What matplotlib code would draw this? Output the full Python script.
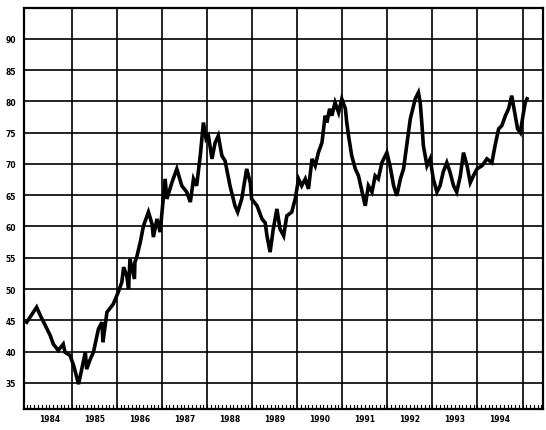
import matplotlib
matplotlib.use("Agg")
import matplotlib.pyplot as plt
import numpy as np
from matplotlib.ticker import FixedLocator, NullFormatter

# data (decimal year, value)
years = [1984.00, 1984.22, 1984.30, 1984.41, 1984.52, 1984.59, 1984.70, 1984.81,
         1984.85, 1984.96, 1985.04, 1985.15, 1985.22, 1985.30, 1985.33, 1985.41,
         1985.48, 1985.59, 1985.67, 1985.69, 1985.78, 1985.92, 1986.03, 1986.11,
         1986.15, 1986.22, 1986.26, 1986.29, 1986.39, 1986.40, 1986.44, 1986.52,
         1986.59, 1986.70, 1986.78, 1986.81, 1986.89, 1986.96, 1987.03, 1987.07,
         1987.11, 1987.22, 1987.33, 1987.44, 1987.55, 1987.63, 1987.70, 1987.77,
         1987.85, 1987.92, 1987.98, 1988.03, 1988.11, 1988.18, 1988.25, 1988.33,
         1988.40, 1988.51, 1988.62, 1988.68, 1988.77, 1988.88, 1988.96, 1988.99,
         1989.11, 1989.22, 1989.29, 1989.33, 1989.40, 1989.47, 1989.55, 1989.62,
         1989.70, 1989.77, 1989.88, 1989.96, 1990.03, 1990.10, 1990.18, 1990.25,
         1990.33, 1990.40, 1990.47, 1990.55, 1990.62, 1990.66, 1990.72, 1990.77,
         1990.84, 1990.92, 1990.99, 1991.07, 1991.10, 1991.14, 1991.21, 1991.29,
         1991.36, 1991.44, 1991.51, 1991.58, 1991.66, 1991.73, 1991.80, 1991.88,
         1991.99, 1992.06, 1992.14, 1992.21, 1992.29, 1992.36, 1992.43, 1992.51,
         1992.62, 1992.69, 1992.73, 1992.77, 1992.80, 1992.88, 1992.95, 1993.02,
         1993.10, 1993.17, 1993.24, 1993.32, 1993.39, 1993.47, 1993.54, 1993.62,
         1993.69, 1993.77, 1993.84, 1993.91, 1993.99, 1994.10, 1994.21, 1994.32,
         1994.39, 1994.47, 1994.54, 1994.62, 1994.69, 1994.76, 1994.84, 1994.89,
         1994.95, 1995.01, 1995.06, 1995.10]
values = [44.7, 47.1, 45.8, 44.2, 42.6, 41.2, 40.2, 41.2,
          39.9, 39.4, 37.8, 34.8, 37.2, 39.9, 37.2, 38.8,
          39.9, 43.6, 44.7, 41.5, 46.3, 47.6, 49.5, 51.1,
          53.5, 52.1, 50.0, 54.8, 51.6, 54.3, 55.1, 57.5,
          60.1, 62.3, 60.4, 58.3, 61.2, 59.1, 64.4, 67.6,
          64.4, 67.0, 69.2, 66.5, 65.5, 63.9, 67.6, 66.5,
          71.3, 76.6, 74.0, 74.5, 70.8, 73.4, 74.5, 71.3,
          70.5, 66.5, 63.3, 62.3, 64.4, 69.2, 67.0, 64.4,
          63.3, 61.2, 60.6, 58.5, 55.9, 59.6, 62.8, 59.6,
          58.5, 61.7, 62.3, 64.5, 67.6, 66.5, 67.6, 66.0,
          70.8, 69.7, 71.8, 73.4, 77.7, 76.6, 78.8, 77.7,
          79.8, 78.2, 80.4, 78.8, 76.6, 74.5, 71.3, 69.2,
          68.1, 65.5, 63.3, 66.5, 65.5, 68.1, 67.6, 70.2,
          71.8, 69.7, 66.5, 64.9, 67.6, 69.2, 72.9, 77.2,
          80.4, 81.4, 79.8, 76.1, 72.9, 69.7, 70.8, 67.6,
          65.5, 66.5, 68.7, 70.2, 68.7, 66.5, 65.5, 68.1,
          71.8, 69.7, 67.0, 68.1, 69.2, 69.7, 70.8, 70.2,
          72.9, 75.6, 76.1, 77.7, 78.8, 80.9, 77.7, 75.6,
          75.0, 77.7, 79.8, 80.4]

year_labels = ["1984", "1985", "1986", "1987", "1988", "1989",
               "1990", "1991", "1992", "1993", "1994"]
y_ticks = [35, 40, 45, 50, 55, 60, 65, 70, 75, 80, 85, 90]

fig = plt.figure(figsize=(5.46, 4.31), dpi=100)
ax = fig.add_axes([0.044, 0.049, 0.951, 0.930])

ax.plot(years, values, color="black", lw=2.6, solid_joinstyle="miter")

ax.set_xlim(1983.94, 1995.46)
ax.set_ylim(30.85, 94.9)

# year boundaries as grid lines, labels centred in each year
ax.xaxis.set_major_locator(FixedLocator(np.arange(1985, 1996)))
ax.xaxis.set_major_formatter(NullFormatter())
ax.set_xticks(np.arange(1984.5, 1995, 1), minor=True)
ax.set_xticklabels(year_labels, minor=True, fontsize=5.5, fontweight="bold")
ax.tick_params(axis="x", which="minor", length=0, pad=4)
ax.tick_params(axis="x", which="major", length=0)

ax.set_yticks(y_ticks)
ax.set_yticklabels([str(t) for t in y_ticks], fontsize=5.5, fontweight="bold")
ax.tick_params(axis="y", length=0, pad=6)

ax.grid(True, which="major", color="black", lw=1.2)
ax.set_axisbelow(True)

# monthly ticks along bottom
for m in np.arange(1984, 1995.46, 1 / 12):
    ax.plot([m, m], [30.85, 31.4], color="black", lw=0.8, clip_on=False)

for s in ax.spines.values():
    s.set_linewidth(1.6)

fig.savefig("out.png", dpi=100)
